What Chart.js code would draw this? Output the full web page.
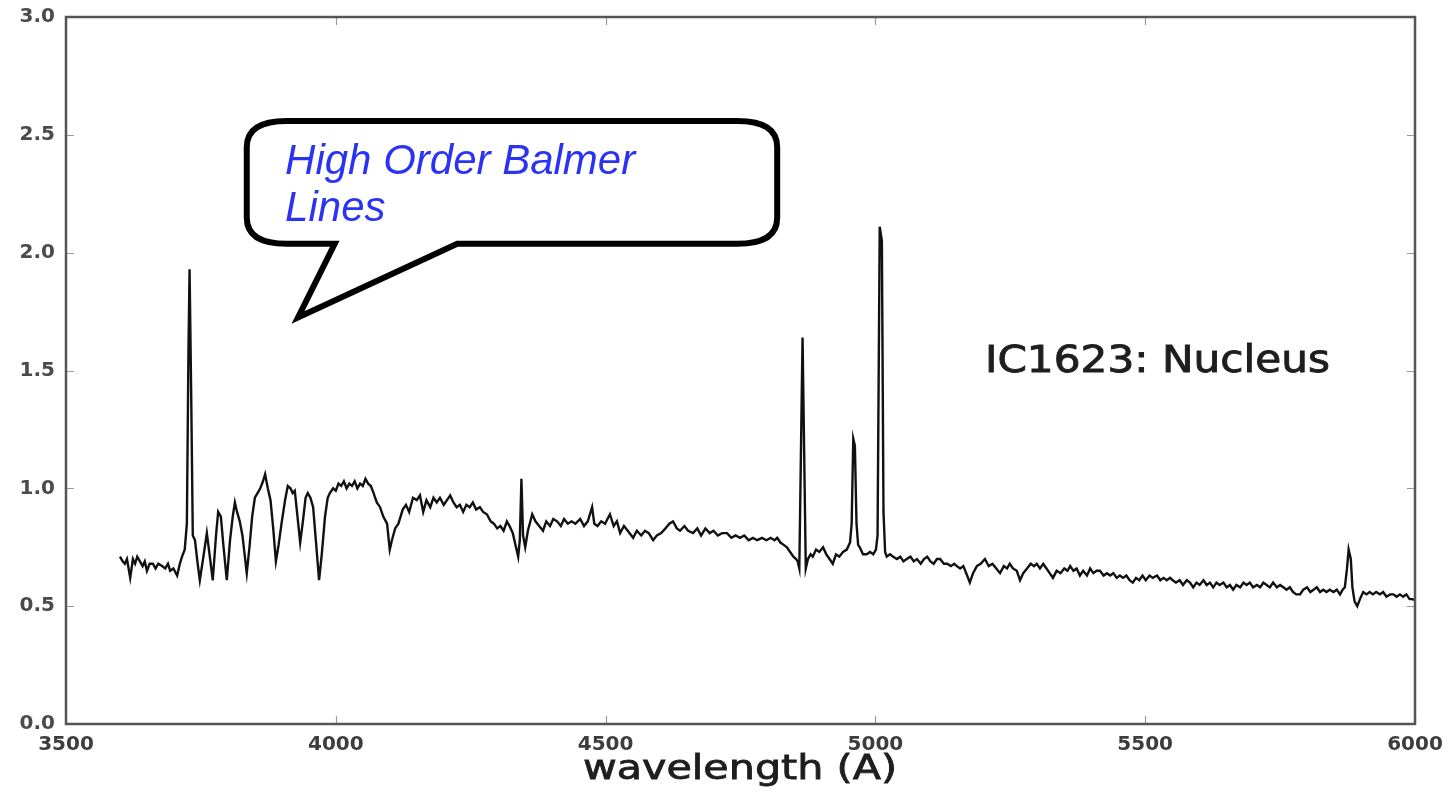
<!DOCTYPE html>
<html>
<head>
<meta charset="utf-8">
<script src="https://cdn.jsdelivr.net/npm/chart.js@4/dist/chart.umd.min.js"></script>
<style>
  html, body { margin:0; padding:0; background:#fff; }
  #wrap { width:1455px; height:792px; position:relative; }
</style>
</head>
<body>
<div id="wrap"><canvas id="spec"></canvas></div>
<script>
// spectrum: wavelength (A) and flux
const wavelength = [
  3600,3605,3609,3613,3619,3624,3628,3632,3637,3642,3646,3650,3655,3661,3666,3671,3678,3684,3689,3693,
  3699,3706,3711,3715,3720,3724,3727,3729,3732,3735,3739,3744,3748,3754,3761,3766,3772,3778,3782,3787,
  3792,3798,3804,3809,3813,3817,3822,3827,3831,3835,3840,3845,3850,3855,3860,3865,3869,3874,3879,3884,
  3889,3894,3900,3906,3911,3916,3920,3924,3929,3934,3939,3944,3948,3953,3958,3963,3969,3974,3980,3985,
  3989,3995,4000,4005,4010,4015,4020,4025,4030,4035,4040,4045,4050,4055,4060,4065,4070,4076,4082,4088,
  4095,4100,4104,4110,4116,4124,4130,4136,4143,4150,4156,4162,4168,4175,4181,4187,4193,4200,4206,4212,
  4218,4224,4230,4236,4242,4248,4254,4260,4267,4273,4280,4287,4293,4299,4305,4311,4317,4322,4328,4333,
  4338,4341,4344,4347,4351,4356,4364,4370,4377,4384,4390,4397,4403,4410,4417,4423,4430,4437,4444,4453,
  4460,4467,4475,4479,4485,4492,4499,4508,4515,4521,4527,4534,4541,4551,4558,4566,4573,4580,4588,4595,
  4603,4611,4618,4625,4632,4638,4646,4653,4662,4670,4677,4685,4693,4700,4708,4716,4725,4733,4741,4749,
  4757,4765,4773,4781,4790,4798,4806,4813,4818,4824,4830,4836,4842,4848,4853,4856,4859,4865,4871,4875,
  4880,4884,4890,4896,4903,4909,4915,4921,4927,4933,4940,4947,4953,4956,4959,4962,4965,4968,4971,4977,
  4984,4990,4996,5001,5004,5008,5012,5015,5018,5021,5027,5033,5040,5046,5052,5058,5065,5071,5077,5084,
  5090,5096,5102,5108,5114,5120,5127,5133,5140,5146,5151,5157,5163,5170,5175,5181,5188,5195,5203,5210,
  5217,5224,5231,5238,5244,5249,5255,5262,5268,5274,5281,5288,5294,5299,5305,5311,5317,5323,5329,5336,
  5343,5350,5356,5361,5367,5373,5379,5385,5392,5398,5404,5410,5416,5423,5429,5435,5441,5447,5453,5459,
  5465,5471,5477,5483,5489,5495,5501,5508,5514,5522,5528,5534,5540,5546,5551,5557,5564,5570,5577,5583,
  5589,5595,5601,5608,5614,5620,5626,5632,5638,5645,5651,5657,5663,5669,5676,5682,5688,5694,5700,5707,
  5713,5719,5725,5731,5737,5744,5750,5756,5762,5768,5774,5780,5787,5793,5800,5806,5812,5818,5824,5830,
  5836,5842,5849,5855,5861,5866,5870,5874,5877,5881,5884,5888,5893,5898,5904,5910,5916,5922,5928,5935,
  5941,5947,5954,5960,5966,5972,5978,5984,5990,5995,6000
];
const flux = [
  0.71,0.69,0.68,0.70,0.62,0.70,0.68,0.71,0.69,0.67,0.69,0.65,0.68,0.68,0.66,0.68,0.67,0.66,0.68,0.65,
  0.66,0.63,0.68,0.71,0.74,0.85,1.60,1.93,1.40,0.80,0.78,0.68,0.61,0.70,0.81,0.72,0.61,0.80,0.90,0.88,
  0.75,0.61,0.78,0.88,0.94,0.90,0.86,0.80,0.72,0.64,0.75,0.88,0.96,0.98,1.00,1.03,1.06,1.00,0.95,0.83,
  0.69,0.76,0.86,0.95,1.01,1.00,0.98,0.99,0.88,0.77,0.86,0.96,0.98,0.96,0.92,0.78,0.61,0.72,0.88,0.96,
  0.98,1.00,0.99,1.02,1.01,1.03,1.00,1.02,1.01,1.03,1.00,1.02,1.01,1.04,1.02,1.01,0.98,0.94,0.92,0.88,
  0.85,0.74,0.78,0.83,0.85,0.91,0.93,0.90,0.96,0.95,0.97,0.90,0.95,0.92,0.96,0.94,0.96,0.93,0.95,0.97,
  0.94,0.92,0.93,0.90,0.93,0.92,0.94,0.91,0.92,0.90,0.89,0.86,0.85,0.83,0.84,0.82,0.86,0.84,0.81,0.76,
  0.71,0.78,1.04,0.80,0.75,0.82,0.89,0.86,0.84,0.82,0.86,0.84,0.87,0.86,0.84,0.87,0.85,0.86,0.85,0.87,
  0.84,0.86,0.92,0.85,0.84,0.86,0.85,0.89,0.84,0.86,0.81,0.84,0.82,0.79,0.82,0.80,0.82,0.81,0.78,0.80,
  0.81,0.83,0.85,0.86,0.83,0.82,0.84,0.82,0.81,0.83,0.80,0.83,0.81,0.82,0.80,0.81,0.81,0.79,0.80,0.79,
  0.80,0.78,0.79,0.78,0.79,0.78,0.79,0.78,0.79,0.77,0.76,0.75,0.73,0.71,0.70,0.69,0.66,1.64,0.66,0.70,
  0.72,0.71,0.74,0.73,0.75,0.72,0.70,0.68,0.72,0.71,0.73,0.74,0.77,0.85,1.21,1.18,0.85,0.76,0.75,0.72,
  0.72,0.73,0.72,0.74,0.80,2.11,2.05,0.90,0.73,0.71,0.72,0.71,0.70,0.71,0.69,0.70,0.71,0.69,0.70,0.68,
  0.70,0.71,0.69,0.68,0.70,0.70,0.68,0.68,0.67,0.68,0.67,0.66,0.67,0.63,0.60,0.64,0.67,0.68,0.70,0.67,
  0.68,0.66,0.64,0.67,0.66,0.68,0.66,0.65,0.61,0.64,0.66,0.68,0.67,0.68,0.66,0.68,0.66,0.64,0.62,0.65,
  0.64,0.66,0.65,0.67,0.65,0.66,0.63,0.65,0.63,0.66,0.64,0.65,0.65,0.63,0.64,0.63,0.64,0.62,0.63,0.62,
  0.63,0.61,0.60,0.62,0.61,0.63,0.61,0.63,0.62,0.63,0.61,0.62,0.61,0.62,0.61,0.60,0.61,0.59,0.61,0.60,
  0.58,0.60,0.59,0.61,0.59,0.60,0.58,0.60,0.59,0.60,0.58,0.59,0.57,0.59,0.58,0.60,0.59,0.60,0.58,0.59,
  0.58,0.60,0.59,0.58,0.60,0.58,0.59,0.58,0.57,0.58,0.56,0.55,0.55,0.57,0.58,0.56,0.57,0.58,0.56,0.57,
  0.56,0.57,0.56,0.57,0.55,0.57,0.58,0.66,0.74,0.70,0.58,0.52,0.50,0.53,0.56,0.55,0.56,0.55,0.56,0.55,
  0.56,0.54,0.55,0.55,0.54,0.55,0.54,0.55,0.53,0.53,0.525
];

// axes
const xTicks = [3500, 4000, 4500, 5000, 5500, 6000];
const yTicks = [0.0, 0.5, 1.0, 1.5, 2.0, 2.5, 3.0];
const xTitle = "wavelength (A)";
const objectLabel = "IC1623: Nucleus";
const calloutLines = ["High Order Balmer", "Lines"];

// callout placement, in data units (wavelength, flux)
const callout = { left:3835, right:4818, top:2.559, bottom:2.038,
                  tailL:3998, tailR:4225, tipX:3930, tipY:1.725,
                  textX:3906, line1Y:2.335, line2Y:2.136 };
const labelPos = { x:5203, y:1.492 };

// helpers
function stretchText(ctx, text, x, y, width, bold){
  const w = ctx.measureText(text).width;
  ctx.save();
  ctx.translate(x, y);
  ctx.scale(width / w, 1);
  ctx.fillText(text, 0, 0);
  if(bold){
    ctx.lineWidth = bold;
    ctx.strokeStyle = ctx.fillStyle;
    ctx.strokeText(text, 0, 0);
  }
  ctx.restore();
}

const framePlugin = {
  id: "frame",
  afterDraw(chart){
    const { ctx, chartArea:a, scales:{x, y} } = chart;
    ctx.save();
    // inner tick marks
    ctx.strokeStyle = "#9a9a9a";
    ctx.lineWidth = 1.2;
    ctx.beginPath();
    yTicks.forEach(v=>{
      const py = Math.round(y.getPixelForValue(v)) + 0.5;
      ctx.moveTo(a.left, py); ctx.lineTo(a.left + 8, py);
      ctx.moveTo(a.right, py); ctx.lineTo(a.right - 8, py);
    });
    xTicks.forEach(v=>{
      const px = Math.round(x.getPixelForValue(v)) + 0.5;
      ctx.moveTo(px, a.bottom); ctx.lineTo(px, a.bottom - 8);
      ctx.moveTo(px, a.top); ctx.lineTo(px, a.top + 8);
    });
    ctx.stroke();
    // frame
    ctx.strokeStyle = "#555";
    ctx.lineWidth = 2.5;
    ctx.strokeRect(a.left, a.top, a.right - a.left, a.bottom - a.top);

    // axis title, stretched like the original
    ctx.fillStyle = "#1e1e1e";
    ctx.font = "33px 'DejaVu Sans'";
    ctx.textBaseline = "alphabetic";
    stretchText(ctx, xTitle, 583, 779, 314, 0.8);

    // object label
    ctx.font = "37px 'DejaVu Sans'";
    stretchText(ctx, objectLabel, x.getPixelForValue(labelPos.x), y.getPixelForValue(labelPos.y), 345, 0.9);

    // speech bubble
    const L = x.getPixelForValue(callout.left), R = x.getPixelForValue(callout.right);
    const T = y.getPixelForValue(callout.top), B = y.getPixelForValue(callout.bottom);
    const tl = x.getPixelForValue(callout.tailL), tr = x.getPixelForValue(callout.tailR);
    const tx = x.getPixelForValue(callout.tipX), ty = y.getPixelForValue(callout.tipY);
    const rx = 40, ry = 26;
    ctx.beginPath();
    ctx.moveTo(L + rx, T);
    ctx.lineTo(R - rx, T);
    ctx.quadraticCurveTo(R, T, R, T + ry);
    ctx.lineTo(R, B - ry);
    ctx.quadraticCurveTo(R, B, R - rx, B);
    ctx.lineTo(tr, B);
    ctx.lineTo(tx, ty);
    ctx.lineTo(tl, B);
    ctx.lineTo(L + rx, B);
    ctx.quadraticCurveTo(L, B, L, B - ry);
    ctx.lineTo(L, T + ry);
    ctx.quadraticCurveTo(L, T, L + rx, T);
    ctx.closePath();
    ctx.fillStyle = "#fff";
    ctx.fill();
    ctx.lineWidth = 6;
    ctx.lineJoin = "miter";
    ctx.strokeStyle = "#000";
    ctx.stroke();

    ctx.fillStyle = "#2b33f3";
    ctx.font = "italic 42px 'Liberation Sans', Arial, sans-serif";
    const cx = x.getPixelForValue(callout.textX);
    ctx.fillText(calloutLines[0], cx, y.getPixelForValue(callout.line1Y));
    ctx.fillText(calloutLines[1], cx, y.getPixelForValue(callout.line2Y));
    ctx.restore();
  }
};

const points = wavelength.map((w,i)=>({ x:w, y:flux[i] }));

new Chart(document.getElementById("spec"), {
  type: "line",
  data: { datasets: [{
    data: points,
    borderColor: "#111",
    borderWidth: 2.4,
    pointRadius: 0,
    tension: 0,
    fill: false
  }]},
  options: {
    responsive: true,
    maintainAspectRatio: false,
    animation: false,
    layout: { padding: { top:17, right:40, left:0, bottom:0 } },
    plugins: { legend:{ display:false }, tooltip:{ enabled:false } },
    scales: {
      x: {
        type: "linear",
        min: 3500, max: 6000,
        afterBuildTicks: s => { s.ticks = xTicks.map(v=>({ value:v })); },
        afterFit: s => { s.height = 68; s.paddingLeft = 0; s.paddingRight = 0; },
        grid: { display:false, drawTicks:false },
        border: { display:false },
        ticks: {
          padding: 9,
          color: "#3d3d3d",
          font: { family:"'DejaVu Sans'", size:20, weight:"bold" },
          callback: v => String(v),
          maxRotation: 0
        }
      },
      y: {
        min: 0, max: 3,
        afterBuildTicks: s => { s.ticks = yTicks.map(v=>({ value:v })); },
        afterFit: s => { s.width = 66; s.paddingTop = 0; s.paddingBottom = 0; },
        grid: { display:false, drawTicks:false },
        border: { display:false },
        ticks: {
          padding: 11,
          color: "#4a4a4a",
          font: { family:"'DejaVu Sans'", size:20, weight:"bold" },
          callback: v => Number(v).toFixed(1)
        }
      }
    }
  },
  plugins: [framePlugin]
});
</script>
</body>
</html>
